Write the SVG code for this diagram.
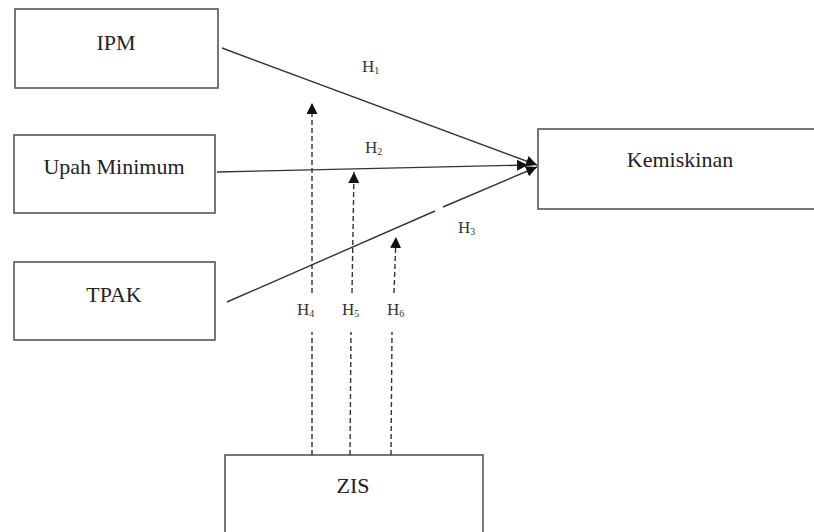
<svg xmlns="http://www.w3.org/2000/svg" width="814" height="532" viewBox="0 0 814 532">
<style>
.box{fill:#fff;stroke:#555;stroke-width:1.6}
.lbl{font-family:"Liberation Serif","Times New Roman",serif;font-size:22px;fill:#222;text-anchor:middle}
.h{font-family:"Liberation Serif","Times New Roman",serif;font-size:17px;fill:#333}
.h tspan{font-size:10px}
.ln{stroke:#333;stroke-width:1.4;fill:none}
.ds{stroke:#333;stroke-width:1.4;fill:none;stroke-dasharray:5,3}
</style>
<defs>
<marker id="ah" viewBox="0 0 10 10" refX="10" refY="5" markerWidth="11" markerHeight="11" markerUnits="userSpaceOnUse" orient="auto">
<path d="M0,0 L10,5 L0,10 z" fill="#111"/>
</marker>
</defs>
<rect width="814" height="532" fill="#fff"/>
<g id="ipm"><rect class="box" x="15" y="9" width="203" height="79"/><text class="lbl" x="116" y="50">IPM</text></g>
<g id="upah"><rect class="box" x="14" y="135" width="201" height="78"/><text class="lbl" x="114" y="174">Upah Minimum</text></g>
<g id="tpak"><rect class="box" x="14" y="262" width="201" height="78"/><text class="lbl" x="114" y="302">TPAK</text></g>
<g id="kemiskinan"><rect class="box" x="538" y="129" width="290" height="80"/><text class="lbl" x="680" y="167">Kemiskinan</text></g>
<g id="zis"><rect class="box" x="225" y="455" width="258" height="90"/><text class="lbl" x="353" y="493">ZIS</text></g>
<g id="connectors">
<line class="ln" x1="222" y1="48" x2="537" y2="165" marker-end="url(#ah)"/>
<line class="ln" x1="217" y1="172" x2="528" y2="165" marker-end="url(#ah)"/>
<line class="ln" x1="227" y1="302" x2="435" y2="211"/>
<line class="ln" x1="443" y1="207" x2="537" y2="167" marker-end="url(#ah)"/>
<line class="ds" x1="312" y1="455" x2="312" y2="332"/>
<line class="ds" x1="312" y1="293" x2="312" y2="103" marker-end="url(#ah)"/>
<line class="ds" x1="350" y1="455" x2="351" y2="332"/>
<line class="ds" x1="352" y1="293" x2="354" y2="172" marker-end="url(#ah)"/>
<line class="ds" x1="391" y1="455" x2="392" y2="332"/>
<line class="ds" x1="394" y1="293" x2="396" y2="237" marker-end="url(#ah)"/>
</g>
<g id="labels">
<text class="h" x="362" y="72">H<tspan dy="2">1</tspan></text>
<text class="h" x="365" y="153">H<tspan dy="2">2</tspan></text>
<text class="h" x="458" y="233">H<tspan dy="2">3</tspan></text>
<text class="h" x="297" y="315">H<tspan dy="2">4</tspan></text>
<text class="h" x="342" y="315">H<tspan dy="2">5</tspan></text>
<text class="h" x="387" y="315">H<tspan dy="2">6</tspan></text>
</g>
</svg>
